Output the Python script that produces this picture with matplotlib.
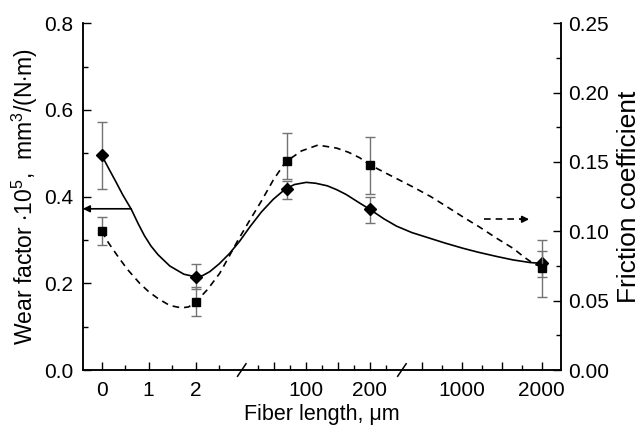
import matplotlib
matplotlib.use("Agg")
import matplotlib.pyplot as plt
from matplotlib.ticker import MultipleLocator

plt.rcParams["font.family"] = ["Liberation Sans", "DejaVu Sans"]
plt.rcParams["mathtext.fontset"] = "custom"
plt.rcParams["mathtext.rm"] = "Liberation Sans"
plt.rcParams["mathtext.it"] = "Liberation Sans:italic"

# broken x axis: three linear segments, each maps fiber length (um) to an axis position
seg_offset = [0.0, 2.98, 5.96]
seg_slope = [1.0, 0.01362, 0.0017]
seg_breaks = [2.98, 6.385]

# measured points: (segment, fiber length in um)
pt_seg = [0, 0, 1, 1, 2]
pt_len = [0, 2, 70, 200, 2000]

wear = [0.496, 0.215, 0.418, 0.371, 0.246]
wear_err_hi = [0.573, 0.244, 0.436, 0.400, 0.275]
wear_err_lo = [0.417, 0.186, 0.394, 0.339, 0.214]

friction = [0.100, 0.049, 0.151, 0.148, 0.0738]
fric_err_hi = [0.110, 0.060, 0.171, 0.168, 0.094]
fric_err_lo = [0.090, 0.039, 0.138, 0.127, 0.053]

# fitted curves, x given as axis position
wear_curve_x = [0.00, 0.15, 0.30, 0.45, 0.63, 0.78, 0.91, 1.05, 1.20, 1.45, 1.75, 2.00,
                2.15, 2.30, 2.50, 2.72, 2.94, 3.15, 3.40, 3.65, 3.91, 4.10, 4.35, 4.55,
                4.80, 5.00, 5.20, 5.49, 5.70, 6.00, 6.27, 6.60, 6.98, 7.30, 7.68, 8.00,
                8.40, 8.75, 9.11, 9.36]
wear_curve_y = [0.496, 0.465, 0.435, 0.404, 0.371, 0.337, 0.310, 0.286, 0.266, 0.240, 0.221, 0.215,
                0.218, 0.227, 0.245, 0.269, 0.298, 0.330, 0.365, 0.394, 0.418, 0.428, 0.433, 0.431,
                0.425, 0.416, 0.405, 0.385, 0.371, 0.349, 0.332, 0.317, 0.304, 0.293, 0.281, 0.272,
                0.262, 0.254, 0.248, 0.246]
fric_curve_x = [0.00, 0.15, 0.35, 0.55, 0.81, 1.00, 1.20, 1.45, 1.70, 1.85, 2.00, 2.25,
                2.51, 2.72, 2.90, 3.15, 3.40, 3.65, 3.91, 4.25, 4.60, 5.00, 5.25, 5.49,
                5.70, 6.10, 6.62, 7.00, 7.33, 7.70, 8.04, 8.40, 8.75, 9.00, 9.17, 9.36]
fric_curve_y = [0.100, 0.0915, 0.0817, 0.0725, 0.0625, 0.0565, 0.0515, 0.0465, 0.0448, 0.0455, 0.049, 0.058,
                0.0697, 0.0825, 0.0937, 0.108, 0.122, 0.137, 0.150, 0.158, 0.1622, 0.160, 0.157, 0.153,
                0.148, 0.141, 0.132, 0.125, 0.118, 0.110, 0.103, 0.095, 0.0877, 0.081, 0.077, 0.0740]

# x ticks per segment
major_ticks = [[0, 1, 2], [50, 100, 150, 200], [500, 1000, 1500, 2000]]
minor_ticks = [[0.5, 1.5, 2.5], [25, 75, 125, 175, 225], [750, 1250, 1750]]
tick_labels = {0: "0", 1: "1", 2: "2", 100: "100", 200: "200", 1000: "1000", 2000: "2000"}


def to_pos(seg, um):
    return seg_offset[seg] + um * seg_slope[seg]


fig = plt.figure(figsize=(6.42, 4.28), dpi=100)
ax = fig.add_axes([0.129, 0.1355, 0.745, 0.81])
ax2 = ax.twinx()

px = [to_pos(s, v) for s, v in zip(pt_seg, pt_len)]

ax.plot(wear_curve_x, wear_curve_y, color="black", lw=1.2)
ax2.plot(fric_curve_x, fric_curve_y, color="black", lw=1.2, dashes=(4, 3))

ax.errorbar(px, wear,
            yerr=[[w - lo for w, lo in zip(wear, wear_err_lo)], [hi - w for w, hi in zip(wear, wear_err_hi)]],
            fmt="none", ecolor="0.45", elinewidth=1, capsize=3.5, capthick=1)
ax2.errorbar(px, friction,
             yerr=[[f - lo for f, lo in zip(friction, fric_err_lo)], [hi - f for f, hi in zip(friction, fric_err_hi)]],
             fmt="none", ecolor="0.45", elinewidth=1, capsize=3.5, capthick=1)
ax.plot(px, wear, "D", color="black", ms=6.5, zorder=5)
ax2.plot(px, friction, "s", color="black", ms=6, zorder=5)

# arrows telling which axis belongs to which curve
ax.annotate("", xy=(-0.40, 0.372), xytext=(0.63, 0.372),
            arrowprops=dict(arrowstyle="-|>", color="black", lw=1.2, mutation_scale=10, shrinkA=0, shrinkB=0))
ax2.plot([8.13, 8.95], [0.1087, 0.1087], color="black", lw=1.2, dashes=(4, 3))
ax2.annotate("", xy=(9.09, 0.1087), xytext=(8.90, 0.1087),
             arrowprops=dict(arrowstyle="-|>", color="black", lw=1.2, mutation_scale=10, shrinkA=0, shrinkB=0))

ax.set_xlim(-0.40, 9.77)
ax.set_ylim(0, 0.8)
ax2.set_ylim(0, 0.25)

maj_pos, maj_lab, min_pos = [], [], []
for s in range(3):
    for v in major_ticks[s]:
        maj_pos.append(to_pos(s, v))
        maj_lab.append(tick_labels.get(v, ""))
    for v in minor_ticks[s]:
        min_pos.append(to_pos(s, v))
ax.set_xticks(maj_pos)
ax.set_xticklabels(maj_lab)
ax.set_xticks(min_pos, minor=True)

ax.set_yticks([0, 0.2, 0.4, 0.6, 0.8])
ax.set_yticklabels(["0.0", "0.2", "0.4", "0.6", "0.8"])
ax.yaxis.set_minor_locator(MultipleLocator(0.1))
ax2.set_yticks([0, 0.05, 0.10, 0.15, 0.20, 0.25])
ax2.set_yticklabels(["0.00", "0.05", "0.10", "0.15", "0.20", "0.25"])
ax2.yaxis.set_minor_locator(MultipleLocator(0.025))

for a in (ax, ax2):
    a.spines["top"].set_visible(False)
    for sp in a.spines.values():
        sp.set_linewidth(1.1)
    a.tick_params(which="major", direction="in", length=6, width=1, labelsize=15)
    a.tick_params(which="minor", direction="in", length=3.5, width=1)
ax.tick_params(axis="x", which="major", pad=8)
ax.tick_params(axis="y", which="major", pad=7)
ax2.tick_params(axis="y", which="major", pad=5)

# break marks on the x axis
for b in seg_breaks:
    ax.plot([b - 0.09, b + 0.09], [-0.018, 0.018], color="black", lw=1.1,
            transform=ax.get_xaxis_transform(), clip_on=False)

ax.set_xlabel("Fiber length, μm", fontsize=15.5, labelpad=3)
ax.set_ylabel("Wear factor $\\cdot$10$^5$,  mm$^3$/(N$\\cdot$m)", fontsize=16.5, labelpad=3)
ax2.set_ylabel("Friction coefficient", fontsize=19, labelpad=6)

fig.savefig("out.png", dpi=100)
